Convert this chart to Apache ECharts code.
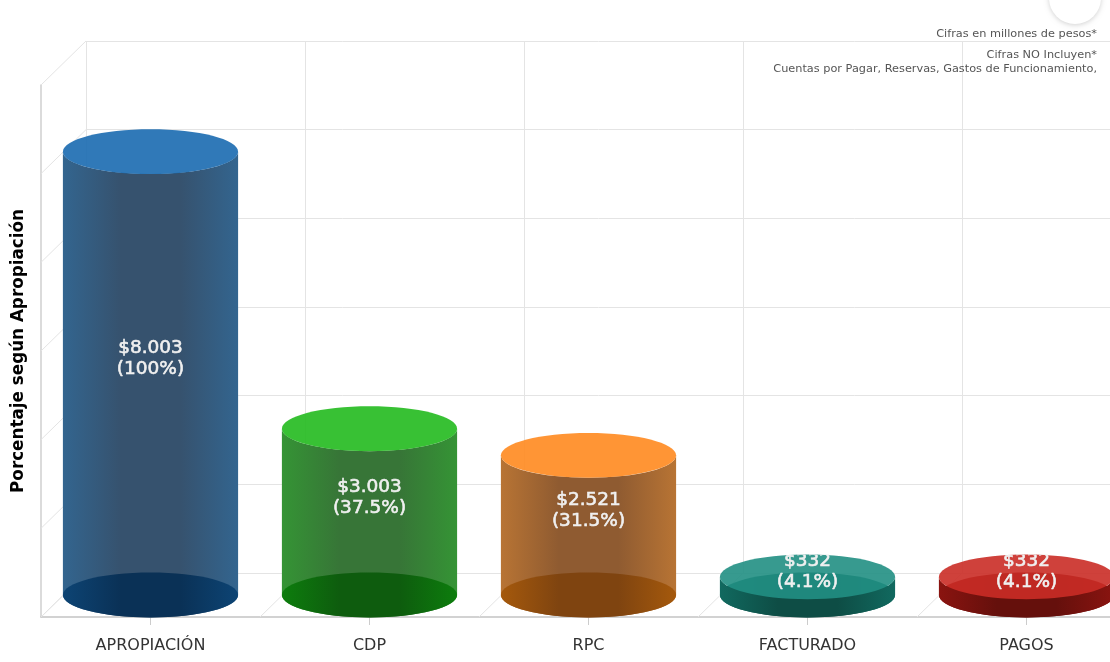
<!DOCTYPE html>
<html>
<head>
<meta charset="utf-8">
<style>html,body{margin:0;padding:0;background:#fff;overflow:hidden}#c{width:1110px;height:662px}</style>
<script src="https://cdn.jsdelivr.net/npm/echarts@6/dist/echarts.min.js"></script>
</head>
<body>
<div id="c"></div>
<script>
const categories = ['APROPIACIÓN', 'CDP', 'RPC', 'FACTURADO', 'PAGOS'];
const percentValues = [100, 37.5, 31.5, 4.1, 4.1];
const amountLabels = ['$8.003', '$3.003', '$2.521', '$332', '$332'];
const percentLabels = ['(100%)', '(37.5%)', '(31.5%)', '(4.1%)', '(4.1%)'];
const yTicks = [0, 20, 40, 60, 80, 100, 120];
const yTitle = 'Porcentaje según Apropiación';
const notes = ['Cifras en millones de pesos*', 'Cifras NO Incluyen*', 'Cuentas por Pagar, Reservas, Gastos de Funcionamiento,'];

const topColors = ['#196ab0', '#22ba1e', '#ff891f', '#218f83', '#ca2c26'];
const bodyEdge = ['#33658f', '#359435', '#b87434', '#11695f', '#8a1410'];
const bodyMid = ['#36526e', '#377537', '#8f5b31', '#0e4d45', '#65100c'];
const baseEdge = ['#0d4474', '#0d7d0d', '#a5590c', '#11695f', '#8a1410'];
const baseMid = ['#0a3156', '#0e5c0e', '#7f4410', '#0e4d45', '#65100c'];

const FONT = '"DejaVu Sans"';
const DEPTH_X = 45, DEPTH_Y = 44, RY = 22.4;
const GRID = '#e4e4e4';

const chart = echarts.init(document.getElementById('c'), null, {renderer: 'canvas'});

function hGrad(edge, mid) {
  return new echarts.graphic.LinearGradient(0, 0, 1, 0, [
    {offset: 0, color: edge}, {offset: 0.33, color: mid},
    {offset: 0.67, color: mid}, {offset: 1, color: edge}
  ]);
}

function renderFloorLines(params, api) {
  const half = api.size([1, 0])[0] / 2;
  const p = api.coord([api.value(0), 0]);
  const x = p[0] - half;
  return {type: 'line', shape: {x1: x, y1: p[1], x2: x + DEPTH_X, y2: p[1] - DEPTH_Y},
    style: {stroke: GRID, lineWidth: 1}, silent: true};
}
function renderWallLines(params, api) {
  const half = api.size([1, 0])[0] / 2;
  const p = api.coord([0, api.value(0)]);
  const x = p[0] - half;
  return {type: 'line', shape: {x1: x, y1: p[1], x2: x + DEPTH_X, y2: p[1] - DEPTH_Y},
    style: {stroke: GRID, lineWidth: 1}, silent: true};
}
function renderCylinder(params, api) {
  const i = params.dataIndex;
  const base = api.coord([i, 0]);
  const top = api.coord([i, api.value(1)]);
  const rx = api.size([1, 0])[0] * 0.4;
  const cx = base[0], yb = base[1] - DEPTH_Y / 2, yt = top[1] - DEPTH_Y / 2;
  const bodyPath = 'M' + (cx - rx) + ' ' + yt + 'L' + (cx - rx) + ' ' + yb +
    'A' + rx + ' ' + RY + ' 0 0 0 ' + (cx + rx) + ' ' + yb +
    'L' + (cx + rx) + ' ' + yt +
    'A' + rx + ' ' + RY + ' 0 0 1 ' + (cx - rx) + ' ' + yt + 'Z';
  const labelY = (yt + yb) / 2 - 14.5;
  return {
    type: 'group',
    children: [
      {type: 'path', shape: {pathData: bodyPath},
        style: {fill: hGrad(bodyEdge[i], bodyMid[i])}},
      {type: 'ellipse', shape: {cx: cx, cy: yb, rx: rx, ry: RY},
        style: {fill: hGrad(baseEdge[i], baseMid[i])}},
      {type: 'ellipse', shape: {cx: cx, cy: yt, rx: rx, ry: RY},
        style: {fill: topColors[i], opacity: 0.9}},
      {type: 'text',
        clipPath: {type: 'rect', shape: {x: cx - rx, y: yt - RY, width: 2 * rx, height: 700}},
        style: {
          x: cx, y: labelY, text: amountLabels[i] + '\n' + percentLabels[i],
          align: 'center', verticalAlign: 'middle',
          font: '18.5px ' + FONT, lineHeight: 21,
          fill: '#f0f0f0', stroke: '#f0f0f0', lineWidth: 0.6
        }}
    ]
  };
}

chart.setOption({
  animation: false,
  backgroundColor: '#ffffff',
  grid: [
    {left: 41, top: 85, width: 1095, height: 532, containLabel: false, outerBoundsMode: 'none'},
    {left: 86, top: 41, width: 1095, height: 532, containLabel: false, outerBoundsMode: 'none'}
  ],
  xAxis: [
    {type: 'category', gridIndex: 0, data: categories,
      axisLine: {lineStyle: {color: '#c4c4c4', width: 1.5}},
      axisTick: {show: true, alignWithLabel: true, length: 8, lineStyle: {color: '#cccccc', width: 1}},
      axisLabel: {color: '#333333', fontSize: 16, fontFamily: FONT, margin: 21, interval: 0},
      splitLine: {show: false}},
    {type: 'category', gridIndex: 1, data: categories,
      axisLine: {show: false}, axisTick: {show: false}, axisLabel: {show: false},
      splitLine: {show: true, interval: 0, lineStyle: {color: GRID, width: 1}}}
  ],
  yAxis: [
    {type: 'value', gridIndex: 0, min: 0, max: 120, interval: 20,
      name: yTitle, nameLocation: 'middle', nameGap: 14,
      nameTextStyle: {color: '#000000', fontSize: 16.8, fontWeight: 'bold', fontFamily: FONT},
      axisLine: {show: true, lineStyle: {color: '#cfcfcf', width: 1.5}},
      axisTick: {show: false}, axisLabel: {show: false}, splitLine: {show: false}},
    {type: 'value', gridIndex: 1, min: 0, max: 120, interval: 20,
      axisLine: {show: false}, axisTick: {show: false}, axisLabel: {show: false},
      splitLine: {show: true, lineStyle: {color: GRID, width: 1}}}
  ],
  series: [
    {type: 'custom', xAxisIndex: 0, yAxisIndex: 0, z: 1, silent: true,
      data: categories.map((c, i) => [i]), encode: {x: 0}, renderItem: renderFloorLines},
    {type: 'custom', xAxisIndex: 0, yAxisIndex: 0, z: 1, silent: true,
      data: yTicks.map(v => [v]), encode: {y: 0}, renderItem: renderWallLines},
    {type: 'custom', xAxisIndex: 0, yAxisIndex: 0, z: 5, silent: true,
      data: percentValues.map((v, i) => [i, v]), encode: {x: 0, y: 1}, renderItem: renderCylinder}
  ],
  graphic: [
    {type: 'circle', z: 20, silent: true, shape: {cx: 1075, cy: -2, r: 26},
      style: {fill: '#ffffff', shadowBlur: 5, shadowColor: 'rgba(0,0,0,0.18)', shadowOffsetY: 1}},
    {type: 'text', z: 20, silent: true, style: {x: 1097, y: 34.5, text: notes[0], align: 'right', verticalAlign: 'middle', font: '11.3px ' + FONT, fill: '#555555'}},
    {type: 'text', z: 20, silent: true, style: {x: 1097, y: 55, text: notes[1], align: 'right', verticalAlign: 'middle', font: '11.3px ' + FONT, fill: '#555555'}},
    {type: 'text', z: 20, silent: true, style: {x: 1097, y: 69, text: notes[2], align: 'right', verticalAlign: 'middle', font: '11.3px ' + FONT, fill: '#555555'}}
  ]
});
</script>
</body>
</html>
